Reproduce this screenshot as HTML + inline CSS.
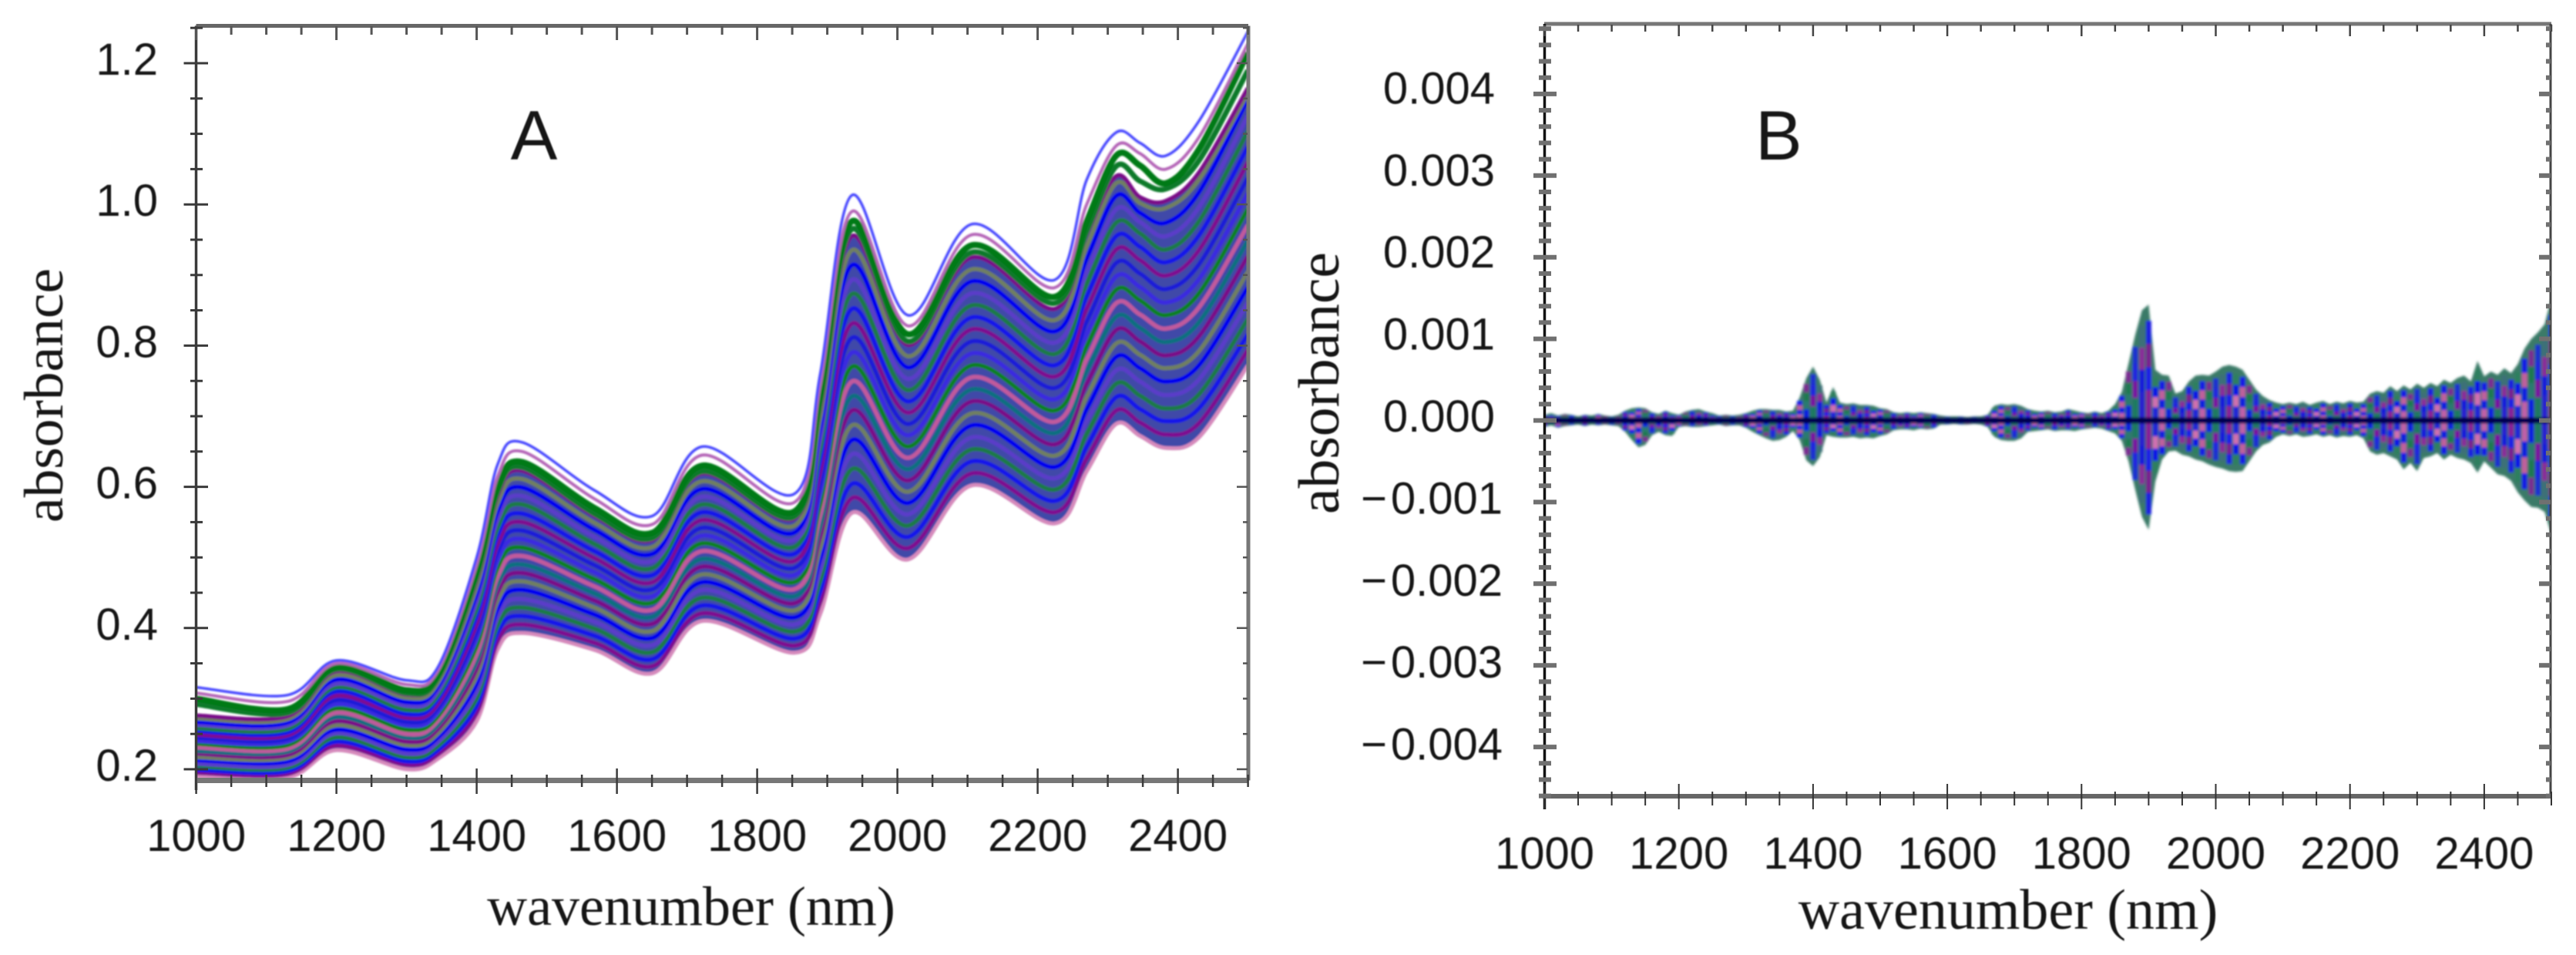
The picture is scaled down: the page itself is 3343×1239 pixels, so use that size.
<!DOCTYPE html>
<html lang="en">
<head>
<meta charset="utf-8">
<title>Absorbance spectra A and B</title>
<style>
html,body{margin:0;padding:0;background:#fff;}
svg{display:block;}
text{fill:#161616;}
.sans{font-family:"Liberation Sans",sans-serif;}
.serif{font-family:"Liberation Serif",serif;}
</style>
</head>
<body>
<svg id="figure" xmlns="http://www.w3.org/2000/svg" width="3343" height="1239" viewBox="0 0 3343 1239">
  <defs>
    <filter id="softMarks" x="-5%" y="-5%" width="110%" height="110%"><feGaussianBlur stdDeviation="1.1"/></filter>
    <filter id="softBand" x="-5%" y="-5%" width="110%" height="110%"><feGaussianBlur stdDeviation="1.5"/></filter>
    <filter id="softText" x="-5%" y="-5%" width="110%" height="110%"><feGaussianBlur stdDeviation="0.7"/></filter>
    <clipPath id="clipA"><rect x="254" y="33" width="1366" height="980"/></clipPath>
    <clipPath id="clipB"><rect x="2004" y="31" width="1306" height="1001"/></clipPath>
  </defs>
  <rect x="0" y="0" width="3343" height="1239" fill="#fff"/>
  <g id="panelA">
    <g id="marksA" clip-path="url(#clipA)"></g>
    <g id="axesA"></g>
    <g id="labelsA" class="sans" font-size="58" filter="url(#softText)"></g>
    <g filter="url(#softText)">
      <text class="sans" x="693" y="207" font-size="91" text-anchor="middle">A</text>
      <text class="serif" x="897" y="1200" font-size="72" text-anchor="middle">wavenumber (nm)</text>
      <text class="serif" font-size="72" text-anchor="middle" textLength="330" lengthAdjust="spacingAndGlyphs" transform="translate(81 513) rotate(-90)">absorbance</text>
    </g>
  </g>
  <g id="panelB">
    <g id="marksB" clip-path="url(#clipB)"></g>
    <g id="axesB"></g>
    <g id="labelsB" class="sans" font-size="58" filter="url(#softText)"></g>
    <g filter="url(#softText)">
      <text class="sans" x="2278" y="207" font-size="91">B</text>
      <text class="serif" x="2606" y="1205" font-size="74" text-anchor="middle">wavenumber (nm)</text>
      <text class="serif" font-size="75" text-anchor="middle" textLength="340" lengthAdjust="spacingAndGlyphs" transform="translate(1737 497) rotate(-90)">absorbance</text>
    </g>
  </g>
</svg>
<script>
// ---------- Panel A data: absorbance x 1000 at each sampled wavelength ----------
const wavelengthsA = [1000,1130,1200,1300,1345,1400,1430,1465,1568,1651,1722,1853,1890,1935,2015,2106,2224,2270,2312,2346,2383,2430,2500];
const spectrumLowest = [190,188,227,200,215,268,370,393,369,336,410,365,420,563,497,602,548,622,689,672,655,670,772];
const spectrum01 = [195,193,233,206,221,279,381,405,379,346,421,375,436,584,513,619,564,640,708,691,674,690,794];
const spectrum02 = [199,197,239,211,227,289,393,417,389,356,432,385,451,604,529,636,580,657,727,710,693,711,816];
const spectrum03 = [204,202,245,217,233,300,404,429,399,366,443,395,467,625,545,653,596,675,746,729,711,731,838];
const spectrum04 = [208,206,251,222,239,310,416,441,409,376,454,405,482,646,561,670,612,693,765,749,730,752,861];
const spectrum05 = [213,211,256,228,245,321,427,454,419,386,465,415,498,666,577,687,628,710,784,768,749,772,883];
const spectrum06 = [217,216,262,234,251,332,439,466,429,396,476,425,513,687,593,704,644,728,803,787,768,792,905];
const spectrum07 = [222,220,268,239,257,342,450,478,439,406,487,435,529,708,609,721,660,746,822,806,786,813,927];
const spectrum08 = [226,225,274,245,263,353,462,490,449,416,498,445,544,728,625,738,676,764,841,825,805,833,949];
const spectrum09 = [231,229,280,250,269,363,473,502,459,426,509,455,560,749,641,755,692,781,860,844,824,854,971];
const spectrum10 = [236,234,286,256,275,374,485,514,469,436,520,465,575,770,657,772,708,799,879,864,843,874,994];
const spectrum11 = [240,239,292,262,281,385,496,526,479,445,531,475,591,790,673,789,724,817,898,883,861,894,1016];
const spectrum12 = [245,243,298,267,287,395,508,538,489,455,542,485,606,811,689,806,740,834,917,902,880,915,1038];
const spectrum13 = [249,248,304,273,293,406,519,550,499,465,553,495,622,831,705,823,756,852,936,921,899,935,1060];
const spectrum14 = [254,252,310,278,299,416,531,562,509,475,564,505,637,852,721,840,772,870,955,940,918,956,1082];
const spectrum15 = [258,257,316,284,305,427,542,575,519,485,575,515,653,873,737,857,788,888,974,959,936,976,1104];
const spectrum16 = [263,262,321,290,311,438,554,587,529,495,586,525,668,893,753,874,804,905,993,975,955,996,1126];
const spectrum17 = [267,266,327,295,317,448,565,599,539,505,597,535,684,914,769,891,820,923,1012,988,974,1017,1149];
const spectrum18 = [272,271,333,301,323,459,577,611,549,515,608,545,699,935,785,908,836,941,1030,1002,995,1035,1158];
const spectrum19 = [276,275,339,306,329,469,588,623,559,525,619,555,715,955,801,925,852,958,1040,1010,1005,1045,1165];
const spectrumGreenSecond = [292,280,342,308,330,474,594,628,562,528,622,558,722,965,806,932,860,962,1054,1033,1022,1062,1190];
const spectrumGreenTop = [300,285,345,312,335,480,600,635,570,535,630,565,730,976,816,942,869,976,1069,1055,1030,1078,1215];
const spectrumPurpleTop = [308,296,350,320,340,490,615,650,583,547,645,578,745,990,828,957,882,1000,1083,1072,1050,1095,1228];
const spectrumBlueTop = [316,305,354,326,345,500,632,663,595,559,657,590,760,1013,843,972,893,1035,1102,1087,1069,1118,1245];
const spectraBody = [spectrum01,spectrum02,spectrum03,spectrum04,spectrum05,spectrum06,spectrum07,spectrum08,spectrum09,spectrum10,spectrum11,spectrum12,spectrum13,spectrum14,spectrum15,spectrum16,spectrum17,spectrum18,spectrum19];
const xTickLabelsA = ['1000','1200','1400','1600','1800','2000','2200','2400'];
const yTickLabelsA = ['0.2','0.4','0.6','0.8','1.0','1.2'];

// ---------- Panel B data: spread of absorbance x 100000, one entry per 10 nm from 1000 to 2500 ----------
const bandStartB = 1000;
const bandStepB = 10;
const bandUpper = [7,9,6,8,7,5,7,6,8,6,5,7,12,15,16,15,10,8,12,9,7,11,13,14,11,9,6,7,6,7,9,12,14,14,13,13,11,12,28,52,66,50,22,41,22,20,21,19,19,18,15,14,10,9,10,9,10,9,8,6,5,5,5,4,5,5,7,18,20,19,20,18,14,12,11,12,10,11,14,12,10,9,11,9,12,20,35,70,105,135,142,62,56,55,33,36,48,55,56,55,60,66,68,66,62,50,38,30,25,22,20,22,20,23,19,22,24,20,23,21,24,22,23,33,36,34,42,36,43,38,45,40,46,42,50,46,52,55,48,73,54,60,56,64,58,69,88,100,108,118,150];
const bandLower = [8,6,9,7,6,5,7,5,6,5,6,7,14,24,33,30,18,14,18,19,8,7,8,8,7,6,5,7,6,6,9,14,18,22,25,24,20,13,24,49,56,45,18,20,21,21,20,22,21,22,19,17,12,11,11,12,10,11,10,5,5,4,5,5,4,5,8,20,24,25,25,22,14,13,12,11,13,12,12,13,11,10,9,10,13,16,25,50,85,118,134,75,48,38,37,42,44,48,50,54,57,59,62,63,62,50,38,30,27,20,17,19,17,20,19,17,20,18,21,19,20,18,22,38,42,40,44,48,60,52,62,46,44,40,48,42,46,48,52,64,50,58,66,68,74,88,98,106,107,112,140];
const xTickLabelsB = ['1000','1200','1400','1600','1800','2000','2200','2400'];
const yTickLabelsB = ['\u2212\u200a0.004','\u2212\u200a0.003','\u2212\u200a0.002','\u2212\u200a0.001','0.000','0.001','0.002','0.003','0.004'];

const SVG_NS = 'http://www.w3.org/2000/svg';
const marksA = document.getElementById('marksA');
const axesA = document.getElementById('axesA');
const labelsA = document.getElementById('labelsA');
const marksB = document.getElementById('marksB');
const axesB = document.getElementById('axesB');
const labelsB = document.getElementById('labelsB');

function xA(nm){ return 254.6 + (nm - 1000) * 0.91; }
function yA(a){ return 998 - (a - 0.2) * 916; }
function xB(nm){ return 2004.5 + (nm - 1000) * 0.871; }
function yB(v){ return 545.5 - v * 105900; }

function shape(tag, attrs, parent){
  const el = document.createElementNS(SVG_NS, tag);
  for (const k in attrs) el.setAttribute(k, attrs[k]);
  parent.appendChild(el);
  return el;
}
function seg(parent, x1, y1, x2, y2, color, width){
  return shape('line', {x1:x1, y1:y1, x2:x2, y2:y2, stroke:color, 'stroke-width':width}, parent);
}
function spectrumPoints(series){
  return series.map(function(v, i){ return [xA(wavelengthsA[i]), yA(v / 1000)]; });
}
function splinePath(pts, start){
  let d = start ? 'M' + pts[0][0].toFixed(1) + ' ' + pts[0][1].toFixed(1) : '';
  for (let i = 0; i < pts.length - 1; i++){
    const p0 = pts[Math.max(i - 1, 0)], p1 = pts[i], p2 = pts[i + 1], p3 = pts[Math.min(i + 2, pts.length - 1)];
    const c1x = p1[0] + (p2[0] - p0[0]) / 6, c1y = p1[1] + (p2[1] - p0[1]) / 6;
    const c2x = p2[0] - (p3[0] - p1[0]) / 6, c2y = p2[1] - (p3[1] - p1[1]) / 6;
    d += 'C' + c1x.toFixed(1) + ' ' + c1y.toFixed(1) + ' ' + c2x.toFixed(1) + ' ' + c2y.toFixed(1) + ' ' + p2[0].toFixed(1) + ' ' + p2[1].toFixed(1);
  }
  return d;
}

// ---------- Panel A marks ----------
const softA = shape('g', {filter:'url(#softMarks)'}, marksA);



const lowerPts = spectrumPoints(spectrumLowest);
const upperPts = spectrumPoints(spectrum19).reverse();
const bandD = splinePath(lowerPts, true) + 'L' + upperPts[0][0].toFixed(1) + ' ' + upperPts[0][1].toFixed(1) + splinePath(upperPts, false) + 'Z';
const bandFill = shape('path', {d:bandD, fill:'#3f4aa8', stroke:'none'}, softA);



const bodyColors = ['#7f1190','#1414ea','#1f7a46','#5a3cc8','#0000f0','#6f7f62','#7a0a88','#0f6f80','#c05a9c','#108020','#3a2ae0','#1a1ad8'];
const lowestLine = shape('path', {d:splinePath(lowerPts, true), fill:'none', stroke:'#d68abc', 'stroke-width':5}, softA);



spectraBody.forEach(function(series, i){
  const line = shape('path', {d:splinePath(spectrumPoints(series), true), fill:'none', stroke:bodyColors[i % bodyColors.length], 'stroke-width':5.5}, softA);
  
  
});

const greenSecond = shape('path', {d:splinePath(spectrumPoints(spectrumGreenSecond), true), fill:'none', stroke:'#0a7a2a', 'stroke-width':7}, softA);



const greenTop = shape('path', {d:splinePath(spectrumPoints(spectrumGreenTop), true), fill:'none', stroke:'#067a14', 'stroke-width':8}, softA);



const purpleTop = shape('path', {d:splinePath(spectrumPoints(spectrumPurpleTop), true), fill:'none', stroke:'#b566b8', 'stroke-width':4}, softA);



const blueTop = shape('path', {d:splinePath(spectrumPoints(spectrumBlueTop), true), fill:'none', stroke:'#4a4aff', 'stroke-width':3.5}, softA);



// ---------- Panel A axes ----------
const frameA = [[254.5,33.5,1620,33.5,'#666',5],[254.5,33.5,254.5,1025,'#3a3a3a',3.5],[254.5,1012.5,1620,1012.5,'#777',7],[1620,33.5,1620,1012.5,'#777',5]];
frameA.forEach(function(f){
  const l = seg(axesA, f[0], f[1], f[2], f[3], f[4], f[5]);
  
  
});
for (let nm = 1000; nm <= 2500; nm += 50){
  const isMajor = (nm % 200) === 0;
  const x = xA(nm);
  const topTick = seg(axesA, x, 34, x, isMajor ? 52 : 45, '#555', 3);
  
  
  const bottomTick = seg(axesA, x, isMajor ? 997 : 1005, x, isMajor ? 1030 : 1021, '#3c3c3c', 2.5);
  
  
}
for (let k = 0; k <= 21; k++){
  const a = 0.2 + k * 0.05;
  const isMajor = (k % 4) === 0;
  const y = yA(a);
  const leftTick = seg(axesA, isMajor ? 238.5 : 247, y, isMajor ? 270 : 263, y, '#3a3a3a', 3);
  
  
  const rightTick = seg(axesA, isMajor ? 1605 : 1613, y, 1619, y, '#555', 2.5);
  
  
}
xTickLabelsA.forEach(function(t){
  const label = shape('text', {x:xA(+t), y:1104, 'text-anchor':'middle'}, labelsA);
  label.textContent = t;
  
  
});
yTickLabelsA.forEach(function(t){
  const label = shape('text', {x:205, y:yA(+t) + 15, 'text-anchor':'end'}, labelsA);
  label.textContent = t;
  
  
});

// ---------- Panel B marks ----------
const softB = shape('g', {filter:'url(#softBand)'}, marksB);



const upperEdge = bandUpper.map(function(up, i){ return xB(bandStartB + i * bandStepB).toFixed(1) + ',' + yB(up * 1e-5).toFixed(1); });
const lowerEdge = bandLower.map(function(lo, i){ return xB(bandStartB + i * bandStepB).toFixed(1) + ',' + yB(-lo * 1e-5).toFixed(1); }).reverse();
const envelope = shape('polygon', {points:upperEdge.concat(lowerEdge).join(' '), fill:'#3a7a68'}, softB);



const layerFactors = [0.86, 0.66, 0.46, 0.26];
const layerColors = [
  ['#1c1ce0','#2f7f5e','#1414e6','#7a2a92','#1f2fd0','#3c6f78'],
  ['#7a1a90','#1010e8','#c0609c','#1a7a50','#2020e0','#8a2a9a'],
  ['#1a1ae8','#d070b0','#101ae0','#2a7a70','#7a10a0','#1414dc'],
  ['#8a1a98','#2020d8','#c060a8','#101ae0','#1a7a60','#2a1ad0']
];
bandUpper.forEach(function(up, i){
  const nm = bandStartB + i * bandStepB;
  const lo = bandLower[i];
  const x = xB(nm);
  layerFactors.forEach(function(f, j){
    const colors = layerColors[j];
    const bar = seg(softB, x, yB(-lo * f * 1e-5), x, yB(up * f * 1e-5), colors[i % colors.length], 7);
    
    
  });
});
const zeroLine = seg(softB, xB(1000), yB(0), xB(2500), yB(0), '#05054f', 8);



// ---------- Panel B axes ----------
const frameB = [[2004,31,3311,31,'#777',5],[2004.5,31,2004.5,1050,'#111',3.5],[2002,1033,3311,1033,'#666',6],[3310,31,3310,1033,'#444',3]];
frameB.forEach(function(f){
  const l = seg(axesB, f[0], f[1], f[2], f[3], f[4], f[5]);
  
  
});
for (let nm = 1000; nm <= 2500; nm += 50){
  const isMajor = (nm % 200) === 0;
  const x = xB(nm);
  const topTick = seg(axesB, x, 32, x, isMajor ? 47 : 41, '#444', 2.5);
  
  
  const bottomTick = seg(axesB, x, isMajor ? 1017 : 1027, x, isMajor ? 1050 : 1045, '#333', 2);
  
  
}
for (let k = -23; k <= 24; k++){
  const v = k * 0.0002;
  const isMajor = (k % 5) === 0;
  const y = yB(v);
  const leftTick = seg(axesB, isMajor ? 1990 : 1997, y, isMajor ? 2020 : 2013, y, '#707070', 6);
  
  
  const rightTick = seg(axesB, isMajor ? 3295 : 3304, y, 3310, y, '#707070', 6);
  
  
}
xTickLabelsB.forEach(function(t){
  const label = shape('text', {x:xB(+t), y:1127, 'text-anchor':'middle'}, labelsB);
  label.textContent = t;
  
  
});
yTickLabelsB.forEach(function(t, i){
  const value = (i - 4) * 0.001;
  const isNegative = i < 4;
  const label = shape('text', {x:isNegative ? 1950 : 1940, y:yB(value) + 14.5 - value * 500, 'text-anchor':'end'}, labelsB);
  label.textContent = t;
  
  
});
</script>
</body>
</html>
